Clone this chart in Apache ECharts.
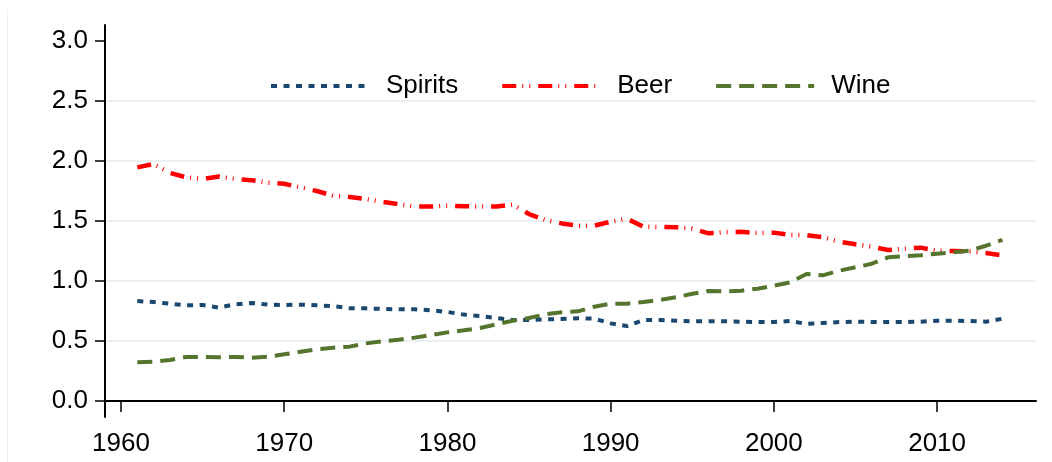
<!DOCTYPE html>
<html>
<head>
<meta charset="utf-8">
<script src="https://cdn.jsdelivr.net/npm/echarts@6/dist/echarts.min.js"></script>
<style>
  html, body { margin: 0; padding: 0; background: #ffffff; }
  #chart { width: 1052px; height: 462px; }
</style>
</head>
<body>
<div id="chart"></div>
<script>
const years = [
  1961, 1962, 1963, 1964, 1965, 1966, 1967, 1968, 1969, 1970,
  1971, 1972, 1973, 1974, 1975, 1976, 1977, 1978, 1979, 1980,
  1981, 1982, 1983, 1984, 1985, 1986, 1987, 1988, 1989, 1990,
  1991, 1992, 1993, 1994, 1995, 1996, 1997, 1998, 1999, 2000,
  2001, 2002, 2003, 2004, 2005, 2006, 2007, 2008, 2009, 2010,
  2011, 2012, 2013, 2014
];
const spirits = [
  0.833, 0.825, 0.81, 0.797, 0.80, 0.778, 0.806, 0.817, 0.803, 0.80,
  0.803, 0.797, 0.79, 0.773, 0.772, 0.767, 0.764, 0.764, 0.756, 0.742,
  0.72, 0.708, 0.692, 0.675, 0.675, 0.68, 0.683, 0.689, 0.686, 0.647,
  0.625, 0.675, 0.675, 0.669, 0.664, 0.664, 0.664, 0.661, 0.658, 0.658,
  0.667, 0.642, 0.65, 0.658, 0.661, 0.658, 0.658, 0.658, 0.661, 0.669,
  0.669, 0.667, 0.661, 0.686
];
const beer = [
  1.947, 1.975, 1.90, 1.864, 1.85, 1.87, 1.85, 1.84, 1.82, 1.81,
  1.78, 1.75, 1.71, 1.70, 1.683, 1.66, 1.64, 1.62, 1.62, 1.628,
  1.623, 1.62, 1.62, 1.636, 1.558, 1.508, 1.48, 1.461, 1.461, 1.494,
  1.519, 1.453, 1.45, 1.447, 1.436, 1.397, 1.408, 1.41, 1.40, 1.403,
  1.383, 1.383, 1.364, 1.328, 1.306, 1.286, 1.258, 1.269, 1.278, 1.253,
  1.25, 1.247, 1.233, 1.214
];
const wine = [
  0.322, 0.328, 0.342, 0.367, 0.367, 0.364, 0.367, 0.361, 0.369, 0.389,
  0.411, 0.43, 0.444, 0.453, 0.48, 0.497, 0.511, 0.528, 0.55, 0.572,
  0.589, 0.608, 0.639, 0.669, 0.692, 0.722, 0.739, 0.747, 0.786, 0.811,
  0.811, 0.825, 0.842, 0.864, 0.894, 0.917, 0.914, 0.919, 0.936, 0.961,
  0.989, 1.058, 1.047, 1.086, 1.114, 1.144, 1.197, 1.208, 1.214, 1.228,
  1.239, 1.253, 1.294, 1.342
];
const xTicks = [1960, 1970, 1980, 1990, 2000, 2010];
const yTicks = [0, 0.5, 1, 1.5, 2, 2.5, 3];

const FONT = '"Liberation Sans", Arial, Helvetica, sans-serif';
const GRID_COLOR = '#eaf1f3';

function pairs(values) {
  return years.map((y, i) => [y, values[i]]);
}

const chart = echarts.init(document.getElementById('chart'), null, { renderer: 'canvas' });
chart.setOption({
  animation: false,
  backgroundColor: '#ffffff',
  textStyle: { fontFamily: FONT },
  grid: { left: 105, right: 16, top: 25, bottom: 45, outerBoundsMode: 'none' },
  legend: {
    left: 264,
    top: 68,
    itemWidth: 98,
    itemHeight: 14,
    itemGap: 42,
    itemStyle: { opacity: 0 },
    lineStyle: { width: 4 },
    textStyle: { fontFamily: FONT, fontSize: 26, color: '#000000', padding: [0, 0, 0, 12] },
    data: ['Spirits', 'Beer', 'Wine']
  },
  xAxis: {
    type: 'value',
    min: 1959.02,
    max: 2016.06,
    axisLine: { show: true, lineStyle: { color: '#000000', width: 2 } },
    axisTick: { show: true, length: 11, customValues: xTicks, lineStyle: { color: '#000000', width: 1.5 } },
    axisLabel: {
      customValues: xTicks,
      fontSize: 26,
      color: '#000000',
      margin: 14,
      fontFamily: FONT,
      formatter: (v) => String(v)
    },
    splitLine: { show: false }
  },
  yAxis: {
    type: 'value',
    min: -2 / 15,
    max: 47 / 15,
    axisLine: { show: true, lineStyle: { color: '#000000', width: 2 } },
    axisTick: { show: true, length: 10, customValues: yTicks, lineStyle: { color: '#000000', width: 1.5 } },
    axisLabel: {
      customValues: yTicks,
      fontSize: 26,
      color: '#000000',
      margin: 17,
      fontFamily: FONT,
      formatter: (v) => v.toFixed(1)
    },
    splitLine: {
      show: true,
      lineStyle: {
        width: 2,
        color: ['rgba(0,0,0,0)', GRID_COLOR, GRID_COLOR, GRID_COLOR, GRID_COLOR, GRID_COLOR, 'rgba(0,0,0,0)']
      }
    }
  },
  graphic: [{
    type: 'line',
    shape: { x1: 7.5, y1: 10, x2: 7.5, y2: 462 },
    style: { stroke: '#f0f0f0', lineWidth: 1 },
    silent: true
  }],
  series: [
    {
      name: 'Spirits',
      type: 'line',
      symbol: 'none',
      data: pairs(spirits),
      lineStyle: { color: '#1a476f', width: 4, type: [6, 6.5] },
      itemStyle: { color: '#1a476f' }
    },
    {
      name: 'Beer',
      type: 'line',
      symbol: 'none',
      data: pairs(beer),
      lineStyle: { color: '#ff0000', width: 4.5, type: [14, 6, 1, 6, 1, 8] },
      itemStyle: { color: '#ff0000' }
    },
    {
      name: 'Wine',
      type: 'line',
      symbol: 'none',
      data: pairs(wine),
      lineStyle: { color: '#55752f', width: 4, type: [15, 8] },
      itemStyle: { color: '#55752f' }
    }
  ]
});
</script>
</body>
</html>
